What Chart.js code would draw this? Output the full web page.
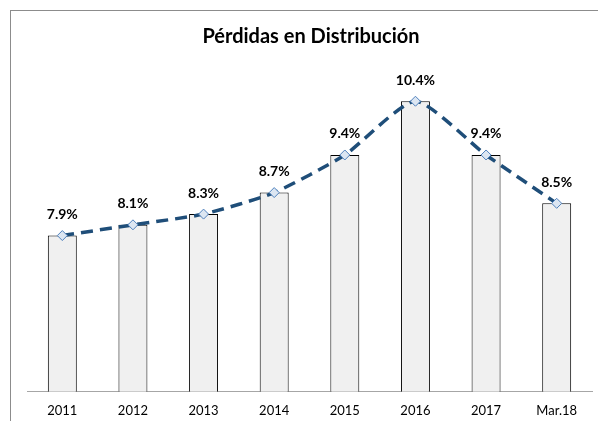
<!DOCTYPE html>
<html>
<head>
<meta charset="utf-8">
<script src="https://cdn.jsdelivr.net/npm/chart.js@4.4.0/dist/chart.umd.min.js"></script>
<style>
  html, body { margin: 0; padding: 0; background: #fff; }
  #wrap { position: relative; width: 598px; height: 421px; overflow: hidden; }
  #frame { position: absolute; left: 10px; top: 10px; width: 600px; height: 420px; border: 1px solid #8c8c8c; }
  canvas { position: absolute; left: 0; top: 0; }
</style>
</head>
<body>
<div id="wrap">
  <div id="frame"></div>
  <canvas id="chart" width="598" height="421"></canvas>
</div>
<script>
// Datos
const periodos = ['2011', '2012', '2013', '2014', '2015', '2016', '2017', 'Mar.18'];
const perdidas = [7.9, 8.1, 8.3, 8.7, 9.4, 10.4, 9.4, 8.5];
const etiquetas = ['7.9%', '8.1%', '8.3%', '8.7%', '9.4%', '10.4%', '9.4%', '8.5%'];

const fontFamily = 'Lato, "Liberation Sans", sans-serif';

// etiquetas de datos sobre los puntos de la línea
const dataLabels = {
    id: 'dataLabels',
    afterDatasetsDraw(chart) {
        const ctx = chart.ctx;
        const meta = chart.getDatasetMeta(0);
        ctx.save();
        ctx.font = 'bold 14px ' + fontFamily;
        ctx.fillStyle = '#000';
        ctx.textAlign = 'center';
        ctx.textBaseline = 'middle';
        meta.data.forEach((pt, i) => {
            ctx.fillText(etiquetas[i], pt.x, pt.y - 21);
        });
        ctx.restore();
    }
};

const ctx = document.getElementById('chart').getContext('2d');
const chart = new Chart(ctx, {
    data: {
        labels: periodos,
        datasets: [{
            type: 'line',
            data: perdidas,
            order: 0,
            borderColor: '#1f4e79',
            borderWidth: 3.5,
            borderDash: [12, 7],
            tension: 0.2,
            fill: false,
            pointStyle: 'rectRot',
            pointRadius: 5,
            pointBackgroundColor: '#dce6f2',
            pointBorderColor: '#4f81bd',
            pointBorderWidth: 1
        }, {
            type: 'bar',
            data: perdidas,
            order: 1,
            backgroundColor: '#f0f0f0',
            borderColor: '#000',
            borderWidth: 1,
            categoryPercentage: 1,
            barPercentage: 0.41
        }]
    },
    options: {
        responsive: false,
        animation: false,
        layout: {
            padding: { left: 27, right: 3, top: 0, bottom: -10 }
        },
        scales: {
            x: {
                grid: { display: false, drawTicks: false },
                border: { display: true, color: '#a6a6a6', width: 1 },
                ticks: {
                    color: '#000',
                    padding: 12,
                    font: { family: fontFamily, size: 13 }
                }
            },
            y: {
                display: false,
                min: 5,
                max: 11
            }
        },
        plugins: {
            legend: { display: false },
            tooltip: { enabled: false },
            title: {
                display: true,
                text: 'Pérdidas en Distribución',
                color: '#000',
                font: { family: fontFamily, size: 20, weight: 'bold' },
                padding: { top: 25, bottom: 20 }
            }
        }
    },
    plugins: [dataLabels]
});
</script>
</body>
</html>
